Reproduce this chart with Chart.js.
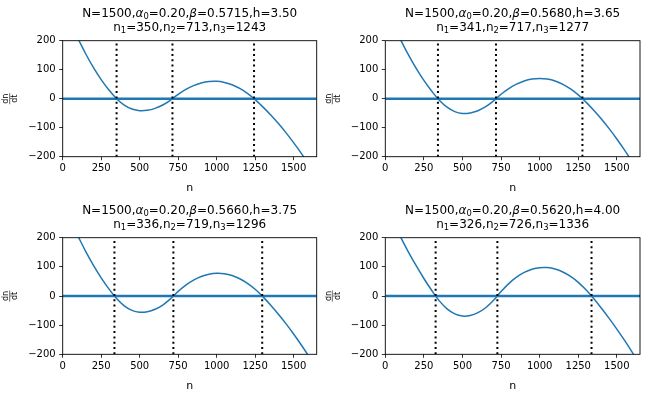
<!DOCTYPE html>
<html><head><meta charset="utf-8">
<script src="https://cdn.jsdelivr.net/npm/chart.js@4.4.0/dist/chart.umd.min.js"></script>
<style>
html,body{margin:0;padding:0;background:#fff;}
#wrap{position:relative;width:650px;height:400px;overflow:hidden;background:#fff;}
canvas{position:absolute;}
</style></head><body><div id="wrap">
<canvas id="c0" width="325" height="200" style="left:0px;top:0px"></canvas>
<canvas id="c1" width="325" height="200" style="left:325px;top:0px"></canvas>
<canvas id="c2" width="325" height="200" style="left:0px;top:200px"></canvas>
<canvas id="c3" width="325" height="200" style="left:325px;top:200px"></canvas>
</div>
<script>
// ---- data ----
const totalN = 1500;
const alpha0 = 0.20;
const betaValues = [0.5715, 0.5680, 0.5660, 0.5620];
const hValues = [3.50, 3.65, 3.75, 4.00];

const rootsA = [350, 713, 1243];
const rootsB = [341, 717, 1277];
const rootsC = [336, 719, 1296];
const rootsD = [326, 726, 1336];

const xTicks = [0, 250, 500, 750, 1000, 1250, 1500];
const yTicks = [-200, -100, 0, 100, 200];
const xRange = [0, 1650];
const yRange = [-200, 200];

// n values at which dn/dt was read
const nGrid = [100, 150, 200, 250, 300, 350, 400, 450, 500, 550, 600, 650, 700, 750, 800, 850,
               900, 950, 1000, 1050, 1100, 1150, 1200, 1250, 1300, 1350, 1400, 1450, 1500, 1550, 1600, 1650];

const rateA = [206.6, 154.2, 107.3, 66.0, 30.2, 0, -21.9, -35.7, -41.3, -39.9, -33.3, -21.8, -5.1, 15.2, 32.2, 45.2,
               54.1, 59.0, 59.8, 56.2, 48.1, 35.5, 18.4, -3.3, -28.1, -55.3, -84.9, -117.0, -151.5, -188.4, -227.8, -269.6];
const rateB = [202.1, 150.9, 104.5, 63.0, 26.4, -5.3, -29.4, -44.6, -50.8, -49.1, -41.4, -27.7, -8.0, 15.4, 35.0, 50.3,
               61.3, 67.8, 70.0, 67.7, 60.9, 49.5, 33.5, 13.0, -11.9, -39.7, -70.1, -103.2, -138.9, -177.2, -218.2, -261.8];
const rateC = [204.3, 152.3, 105.0, 62.4, 24.4, -8.6, -33.6, -49.3, -55.8, -54.0, -45.6, -30.9, -9.8, 15.7, 37.4, 54.4,
               66.9, 74.7, 77.9, 76.5, 70.3, 59.3, 43.6, 23.0, -2.2, -30.8, -61.7, -94.9, -130.4, -168.1, -208.1, -250.4];
const rateD = [201.0, 150.8, 103.8, 60.1, 19.7, -16.7, -44.0, -61.3, -68.7, -66.8, -57.3, -40.3, -15.7, 15.1, 42.5, 64.4,
               80.9, 91.8, 97.3, 97.4, 92.3, 82.2, 67.0, 46.7, 21.4, -8.9, -41.9, -76.8, -113.7, -152.5, -193.2, -235.9];

// ---- layout (pixels inside each 325x200 canvas) ----
const panels = [
  {id:'c0', rate:rateA, roots:rootsA, beta:betaValues[0], h:hValues[0], area:{l:62.7, r:316.7, t:40.7, b:156.7}},
  {id:'c1', rate:rateB, roots:rootsB, beta:betaValues[1], h:hValues[1], area:{l:60.3, r:315.0, t:40.7, b:156.7}},
  {id:'c2', rate:rateC, roots:rootsC, beta:betaValues[2], h:hValues[2], area:{l:62.7, r:316.7, t:37.7, b:154.3}},
  {id:'c3', rate:rateD, roots:rootsD, beta:betaValues[3], h:hValues[3], area:{l:60.3, r:315.0, t:37.7, b:154.3}},
];

const FONT = '"DejaVu Sans", "Liberation Sans", sans-serif';
const BLUE = '#1f77b4';

function fmtTick(v){ return v < 0 ? '\u2212' + Math.abs(v) : String(v); }

function drawRich(ctx, segs, cx, baseline, size){
  const subSize = size * 0.7;
  const fontFor = s => (s.italic ? 'italic ' : '') + (s.sub ? subSize : size) + 'px ' + FONT;
  let w = 0;
  segs.forEach(s => { ctx.font = fontFor(s); s.w = ctx.measureText(s.t).width; w += s.w; });
  let x = cx - w / 2;
  ctx.textAlign = 'left';
  ctx.textBaseline = 'alphabetic';
  segs.forEach(s => {
    ctx.font = fontFor(s);
    ctx.fillText(s.t, x, baseline + (s.sub ? size * 0.22 : 0));
    x += s.w;
  });
}

const decor = {
  id: 'decor',
  afterDatasetsDraw(chart){
    const ctx = chart.ctx, a = chart.chartArea;
    ctx.save();
    ctx.strokeStyle = '#000';
    ctx.lineWidth = 0.9;
    ctx.strokeRect(a.left, a.top, a.right - a.left, a.bottom - a.top);
    ctx.restore();
  },
  afterDraw(chart, args, opts){
    const ctx = chart.ctx, a = chart.chartArea, p = opts.panel;
    const cx = (a.left + a.right) / 2;
    ctx.save();
    ctx.fillStyle = '#000';
    const line1 = [
      {t:'N=' + totalN + ','}, {t:'\u03b1', italic:true}, {t:'0', sub:true},
      {t:'=' + alpha0.toFixed(2) + ','}, {t:'\u03b2', italic:true},
      {t:'=' + p.beta.toFixed(4) + ',h=' + p.h.toFixed(2)}
    ];
    const line2 = [
      {t:'n'}, {t:'1', sub:true}, {t:'=' + p.roots[0] + ',n'}, {t:'2', sub:true},
      {t:'=' + p.roots[1] + ',n'}, {t:'3', sub:true}, {t:'=' + p.roots[2]}
    ];
    drawRich(ctx, line1, cx, a.top - 24.2, 12);
    drawRich(ctx, line2, cx, a.top - 10.2, 12);
    // x label
    ctx.font = '11px ' + FONT;
    ctx.textAlign = 'center';
    ctx.textBaseline = 'alphabetic';
    ctx.fillText('n', cx, a.bottom + 34.6);
    // y label: fraction dn/dt, rotated
    ctx.translate(a.left - 53, (a.top + a.bottom) / 2);
    ctx.rotate(-Math.PI / 2);
    ctx.font = '8px ' + FONT;
    ctx.textAlign = 'center';
    const wdn = ctx.measureText('dn').width;
    ctx.textBaseline = 'alphabetic';
    ctx.fillText('dn', 0, -1.4);
    ctx.textBaseline = 'top';
    ctx.fillText('dt', 0, 1.2);
    ctx.strokeStyle = '#000';
    ctx.lineWidth = 0.6;
    ctx.beginPath();
    ctx.moveTo(-wdn / 2 - 0.5, 0); ctx.lineTo(wdn / 2 + 0.5, 0);
    ctx.stroke();
    ctx.restore();
  }
};

panels.forEach(p => {
  const cv = document.getElementById(p.id);
  const W = cv.width, H = cv.height;
  const vlines = p.roots.map(r => ({
    data: [{x:r, y:yRange[0]}, {x:r, y:yRange[1]}],
    borderColor: '#000', borderWidth: 2, borderDash: [2, 3.3], borderCapStyle: 'butt',
    pointRadius: 0, fill: false, tension: 0
  }));
  const zeroLine = {
    data: [{x:xRange[0], y:0}, {x:xRange[1], y:0}],
    borderColor: BLUE, borderWidth: 2.5, pointRadius: 0, fill: false, tension: 0
  };
  const curve = {
    data: nGrid.map((v, i) => ({x:v, y:p.rate[i]})),
    borderColor: BLUE, borderWidth: 1.5, pointRadius: 0, fill: false,
    tension: 0.4, clip: 0
  };
  new Chart(cv.getContext('2d'), {
    type: 'line',
    data: { datasets: [...vlines, zeroLine, curve] },
    options: {
      responsive: false, animation: false, events: [],
      layout: { padding: { left: 0, top: p.area.t, right: W - p.area.r, bottom: 0 } },
      plugins: { legend: {display:false}, tooltip: {enabled:false}, title: {display:false}, decor: {panel: p} },
      scales: {
        x: {
          type: 'linear', min: xRange[0], max: xRange[1],
          afterBuildTicks: s => { s.ticks = xTicks.map(v => ({value: v})); },
          afterFit: s => { s.height = H - p.area.b; },
          grid: { drawOnChartArea: false, drawTicks: true, tickLength: 3.5, color: '#000', lineWidth: 0.8 },
          border: { display: false },
          ticks: { font: {family: FONT, size: 10}, color: '#000', padding: 2.5, maxRotation: 0, autoSkip: false, callback: fmtTick }
        },
        y: {
          type: 'linear', min: yRange[0], max: yRange[1],
          afterBuildTicks: s => { s.ticks = yTicks.map(v => ({value: v})); },
          afterFit: s => { s.width = p.area.l; },
          grid: { drawOnChartArea: false, drawTicks: true, tickLength: 3.5, color: '#000', lineWidth: 0.8 },
          border: { display: false },
          ticks: { font: {family: FONT, size: 10}, color: '#000', padding: 3.5, autoSkip: false, callback: fmtTick }
        }
      }
    },
    plugins: [decor]
  });
});
</script>
</body></html>
